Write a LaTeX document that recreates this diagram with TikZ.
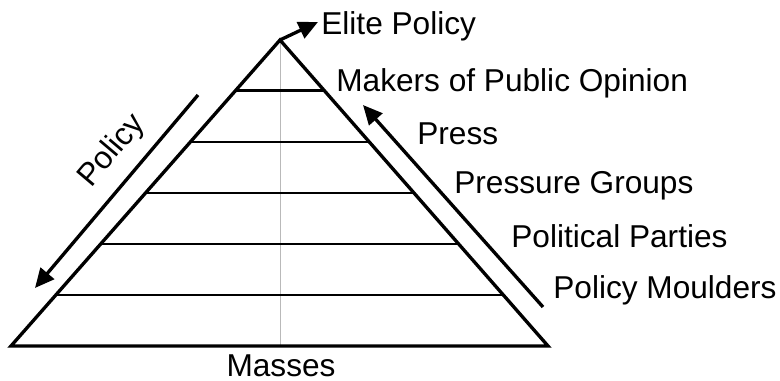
\documentclass[tikz,border=0pt]{standalone}
\usepackage{fontspec}
\setmainfont{Liberation Sans}
\usetikzlibrary{arrows.meta,calc}

\begin{document}
\begin{tikzpicture}[
  x=0.02cm, y=-0.02cm,
  >={Triangle[length=11pt,width=10pt]},
  edge_line/.style={line width=1.9pt, line join=miter},
  layer_line/.style={line width=1.7pt},
  flow/.style={->, line width=1.9pt},
  label_txt/.style={font=\fontsize{18}{21}\selectfont, inner sep=0pt}
]
\useasboundingbox (0,0) rectangle (780,381);

% --- Corners of the pyramid ---
\coordinate (apex)  at (280,40);
\coordinate (baseL) at (11,346);
\coordinate (baseR) at (548,346);
\coordinate (baseM) at (280,346);

% --- Centre line ---
\draw[gray!55, line width=0.5pt] (apex) -- (baseM);

% --- Layers ---
\foreach \i in {1,...,5}{
  \draw[layer_line] ($(apex)!\i/6!(baseL)$) -- ($(apex)!\i/6!(baseR)$);
}

% --- Outline ---
\draw[edge_line] (baseL) -- (apex) -- (baseR) -- cycle;

% --- Labels on the right ---
\node[label_txt, anchor=base west] (elite)    at (321,35)  {Elite Policy};
\node[label_txt, anchor=base west] (makers)   at (336,92)  {Makers of Public Opinion};
\node[label_txt, anchor=base west] (press)    at (417,145) {Press};
\node[label_txt, anchor=base west] (pressure) at (454,194) {Pressure Groups};
\node[label_txt, anchor=base west] (parties)  at (511,248) {Political Parties};
\node[label_txt, anchor=base west] (moulders) at (553,298) {Policy Moulders};

% --- Base label ---
\node[label_txt, anchor=base] (masses) at (281,376) {Masses};

% --- Arrows ---
\coordinate (elite_tip) at (318,22);
\draw[flow] (apex) -- (elite_tip);

\coordinate (policy_top) at (198,95);
\coordinate (policy_bot) at (35,288);
\draw[flow] (policy_top) -- (policy_bot);
\node[label_txt, rotate=49.8] (policy) at (112,151) {Policy};

\coordinate (opinion_bot) at (543,307);
\coordinate (opinion_top) at (363,105);
\draw[flow] (opinion_bot) -- (opinion_top);

\end{tikzpicture}
\end{document}
